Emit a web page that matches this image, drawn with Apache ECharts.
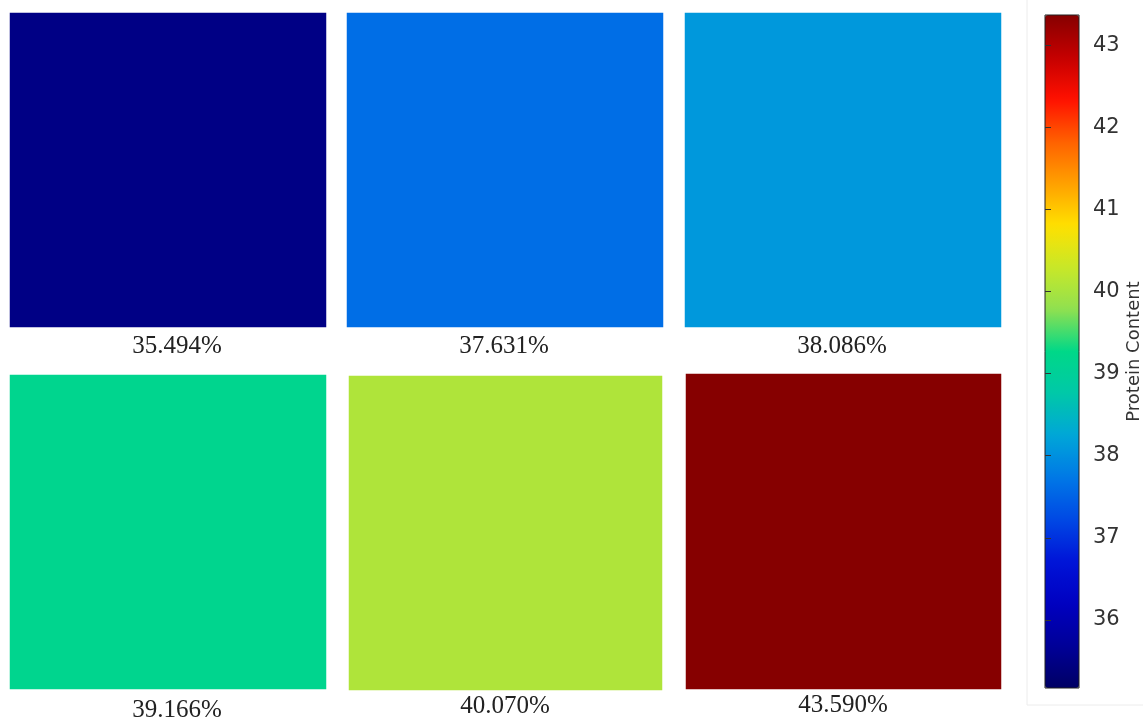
<!DOCTYPE html>
<html>
<head>
<meta charset="utf-8">
<script src="https://cdn.jsdelivr.net/npm/echarts@6/dist/echarts.min.js"></script>
<style>
  html, body { margin: 0; padding: 0; background: #fff; }
  #main { width: 1143px; height: 721px; }
</style>
</head>
<body>
<div id="main"></div>
<script>
// mean protein content of each sample panel
const panelValues = [35.494, 37.631, 38.086, 39.166, 40.070, 43.590];
const panelLabels = ['35.494%', '37.631%', '38.086%', '39.166%', '40.070%', '43.590%'];

// colour bar
const cbMin = 35.17;
const cbMax = 43.37;
const cbTicks = [36, 37, 38, 39, 40, 41, 42, 43];
const cbColors = [
  '#000064', '#000098', '#0000c0', '#0014d8', '#0048e4', '#0078e6',
  '#00a6d8', '#00c8a8', '#00d888', '#90e050', '#c8e828', '#ffe000',
  '#ffa000', '#ff6000', '#ff1000', '#c40000', '#860000'
];

// panel boxes [left, top, width, height] and label anchor [x, y]
const boxes = [
  [10, 13, 316, 314], [347, 13, 316, 314], [685, 13, 316, 314],
  [10, 375, 316, 314], [349, 376, 313, 314], [686, 374, 315, 315]
];
const labelPos = [[177, 346], [504, 346], [842, 346], [177, 710], [505, 706], [843, 705]];

const chart = echarts.init(document.getElementById('main'));

const grids = [];
const xAxes = [];
const yAxes = [];
const series = [];

boxes.forEach((b, i) => {
  grids.push({ left: b[0], top: b[1], width: b[2], height: b[3], outerBoundsMode: 'none' });
  xAxes.push({ type: 'category', gridIndex: i, data: ['0'], show: false });
  yAxes.push({ type: 'category', gridIndex: i, data: ['0'], show: false });
  series.push({
    type: 'heatmap',
    xAxisIndex: i,
    yAxisIndex: i,
    data: [[0, 0, panelValues[i]]],
    silent: true
  });
});

// grid used only for the colour bar ticks and frame
grids.push({
  left: 1045, top: 15, width: 34, height: 673,
  outerBoundsMode: 'none',
  containLabel: false,
  show: true, borderColor: '#222', borderWidth: 1, backgroundColor: 'transparent', z: 10
});
xAxes.push({ type: 'value', gridIndex: 6, show: false });
yAxes.push({
  type: 'value',
  gridIndex: 6,
  position: 'right',
  min: cbMin,
  max: cbMax,
  splitLine: { show: false },
  axisLine: { show: false },
  axisTick: { show: true, customValues: cbTicks, length: 6, lineStyle: { color: '#333' } },
  axisLabel: {
    customValues: cbTicks,
    margin: 14,
    fontSize: 21,
    color: '#333',
    fontFamily: 'DejaVu Sans'
  },
  name: 'Protein Content',
  nameLocation: 'middle',
  nameRotate: 90,
  nameGap: 46,
  nameTextStyle: { fontSize: 18, color: '#333', fontFamily: 'DejaVu Sans' },
  z: 10
});

const option = {
  backgroundColor: '#fff',
  animation: false,
  title: panelLabels.map((t, i) => ({
    text: t,
    left: labelPos[i][0],
    top: labelPos[i][1],
    textAlign: 'center',
    textVerticalAlign: 'middle',
    padding: 0,
    textStyle: { fontSize: 25, fontWeight: 'normal', color: '#222', fontFamily: 'Liberation Serif' }
  })),
  grid: grids,
  xAxis: xAxes,
  yAxis: yAxes,
  visualMap: {
    type: 'continuous',
    min: cbMin,
    max: cbMax,
    seriesIndex: [0, 1, 2, 3, 4, 5],
    calculable: false,
    realtime: false,
    orient: 'vertical',
    left: 1045,
    top: 15,
    itemWidth: 34,
    itemHeight: 673,
    padding: 0,
    text: null,
    showLabel: false,
    inRange: { color: cbColors }
  },
  graphic: [{
    type: 'rect',
    shape: { x: 1027, y: -2, width: 130, height: 707 },
    style: { fill: 'none', stroke: '#ececec', lineWidth: 1 },
    silent: true,
    z: -1
  }],
  series: series
};

chart.setOption(option);
</script>
</body>
</html>
